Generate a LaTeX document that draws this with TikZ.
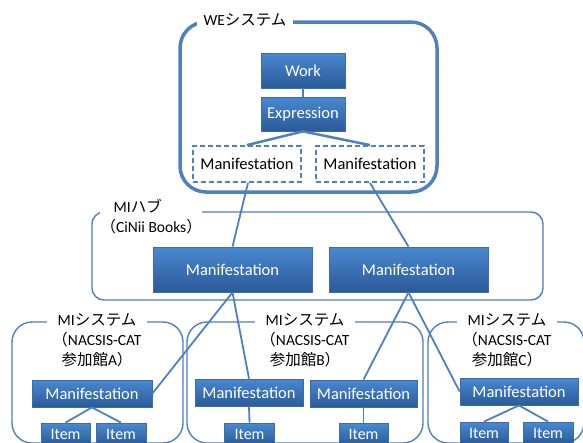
\documentclass[tikz,border=0pt]{standalone}
\usepackage{fontspec}
\setmainfont{Carlito}
\newfontfamily\cjk{Noto Sans CJK JP}
\newcommand{\J}[1]{{\cjk #1}}
\definecolor{lineblue}{HTML}{4F81BD}
\definecolor{topblue}{HTML}{4A88D0}
\definecolor{botblue}{HTML}{2A5A98}
\definecolor{edgeblue}{HTML}{3A6DAE}
\begin{document}
\begin{tikzpicture}[x=1pt,y=-1pt,
  bluebox/.style={draw=edgeblue, line width=0.8pt, top color=topblue, bottom color=botblue,
    text=white, inner sep=0pt, font=\fontsize{16.5}{18}\selectfont},
  itembox/.style={bluebox, font=\fontsize{16}{18}\selectfont},
  dashbox/.style={draw=lineblue, line width=1.8pt, dash pattern=on 5pt off 3pt, fill=white,
    inner sep=0pt, font=\fontsize{16.5}{18}\selectfont},
  conn/.style={draw=lineblue, line width=1.8pt},
  lbl/.style={fill=white, inner sep=0pt, align=center, font=\fontsize{15.5}{20}\selectfont},
  thinframe/.style={draw=lineblue, line width=1.4pt},
]
\clip (0,0) rectangle (583,442);
\useasboundingbox (0,0) rectangle (583,442);
\fill[white] (0,0) rectangle (583,442);

% frames
\draw[draw=lineblue, line width=3.5pt, rounded corners=26pt] (180,22) rectangle (437,192);
\node[lbl, minimum width=96pt, minimum height=16pt] (welbl) at (245,20) {WE\J{システム}};

\draw[thinframe, rounded corners=12pt] (92,212) rectangle (543,300);
\node[lbl, minimum width=102pt, anchor=north west, align=left] (hublbl) at (100,199) {\hspace*{13pt}MI\J{ハブ}\\\J{（}CiNii Books\J{）}};

\draw[thinframe, rounded corners=20pt] (12,322) rectangle (183,443);
\draw[thinframe, rounded corners=20pt] (187,322) rectangle (423,443);
\draw[thinframe, rounded corners=20pt] (428,322) rectangle (584,443);
\node[lbl, minimum width=100pt, anchor=north] (lblA) at (97,313) {MI\J{システム}\\\J{（}NACSIS-CAT\\\J{参加館}A\J{）}};
\node[lbl, minimum width=100pt, anchor=north] (lblB) at (305,313) {MI\J{システム}\\\J{（}NACSIS-CAT\\\J{参加館}B\J{）}};
\node[lbl, minimum width=100pt, anchor=north] (lblC) at (507,313) {MI\J{システム}\\\J{（}NACSIS-CAT\\\J{参加館}C\J{）}};

% WE system
\node[bluebox, minimum width=84pt, minimum height=35pt] (work) at (303,70.5) {Work};
\node[bluebox, minimum width=84pt, minimum height=34pt] (expr) at (303,114) {Expression};
\node[dashbox, minimum width=108pt, minimum height=36pt] (wm1) at (247,164) {Manifestation};
\node[dashbox, minimum width=108pt, minimum height=36pt] (wm2) at (370,164) {Manifestation};

% hub
\node[bluebox, minimum width=159pt, minimum height=45pt] (hm1) at (232.5,269.5) {Manifestation};
\node[bluebox, minimum width=159pt, minimum height=45pt] (hm2) at (408.5,269.5) {Manifestation};

% lower
\node[bluebox, minimum width=120pt, minimum height=27pt] (ma) at (92,393.5) {Manifestation};
\node[itembox, minimum width=49pt, minimum height=22pt] (ia1) at (65.5,434) {Item};
\node[itembox, minimum width=50pt, minimum height=22pt] (ia2) at (121,434) {Item};

\node[bluebox, minimum width=108pt, minimum height=27pt] (mb1) at (249,392.5) {Manifestation};
\node[bluebox, minimum width=107pt, minimum height=27pt] (mb2) at (363.5,393.5) {Manifestation};
\node[itembox, minimum width=50pt, minimum height=22pt] (ib1) at (249.5,434) {Item};
\node[itembox, minimum width=49pt, minimum height=22pt] (ib2) at (363.5,434.5) {Item};

\node[bluebox, minimum width=118pt, minimum height=27pt] (mc) at (519,391.5) {Manifestation};
\node[itembox, minimum width=48pt, minimum height=22pt] (ic1) at (484,433) {Item};
\node[itembox, minimum width=50pt, minimum height=22pt] (ic2) at (548,433) {Item};

% connectors
\draw[conn, line width=2.5pt] (work.south) -- (expr.north);
\draw[conn, line width=2.5pt] (expr.south) -- (wm1.north);
\draw[conn, line width=2.5pt] (expr.south) -- (wm2.north);
\draw[conn] ([xshift=1pt]wm1.south) -- (hm1.north);
\draw[conn] (wm2.south) -- (hm2.north);
\draw[conn] (hm1.south) -- (ma.east);
\draw[conn] (hm1.south) -- (mb1.north);
\draw[conn] (hm2.south) -- (mb2.north);
\draw[conn] (hm2.south) -- (mc.west);
\draw[conn] (ma.south) -- (ia1.north);
\draw[conn] (ma.south) -- (ia2.north);
\draw[conn] (mb1.south) -- (ib1.north);
\draw[conn] (mb2.south) -- (ib2.north);
\draw[conn] (mc.south) -- (ic1.north);
\draw[conn] (mc.south) -- (ic2.north);
\end{tikzpicture}
\end{document}
